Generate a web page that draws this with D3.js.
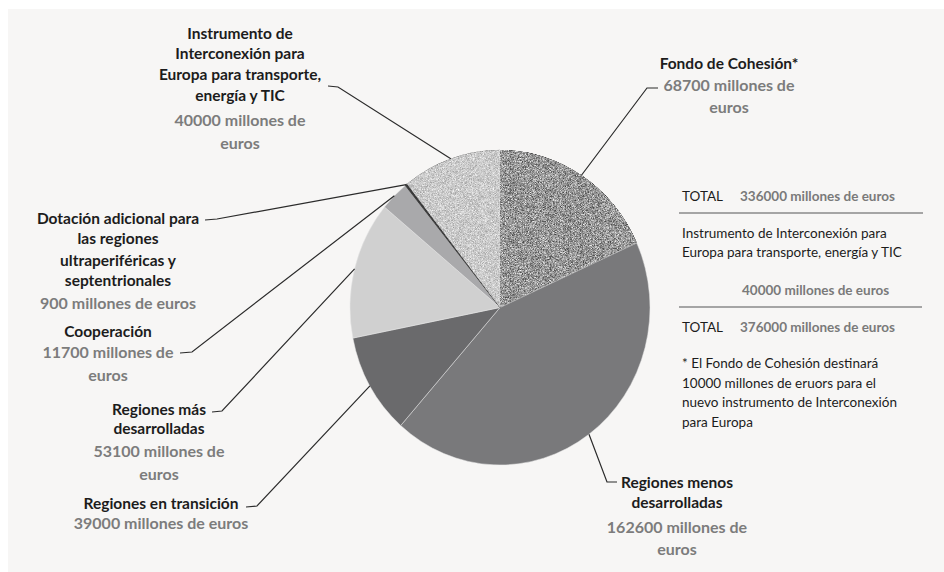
<!DOCTYPE html>
<html><head><meta charset="utf-8">
<script src="https://cdn.jsdelivr.net/npm/d3@7"></script>
<style>html,body{margin:0;padding:0;background:#fff;}svg{display:block;font-family:Lato,"Open Sans",sans-serif;}</style>
</head><body>
<svg id="chart" width="944" height="572"></svg>
<script>
// ---- data ----
const categories = ["Fondo de Cohesión*", "Regiones menos desarrolladas", "Regiones en transición",
  "Regiones más desarrolladas", "Cooperación",
  "Dotación adicional para las regiones ultraperiféricas y septentrionales",
  "Instrumento de Interconexión para Europa para transporte, energía y TIC"];
const values = [68700, 162600, 39000, 53100, 11700, 900, 40000];
const nameLines = [
  ["Fondo de Cohesión*"],
  ["Regiones menos", "desarrolladas"],
  ["Regiones en transición"],
  ["Regiones más", "desarrolladas"],
  ["Cooperación"],
  ["Dotación adicional para", "las regiones", "ultraperiféricas y", "septentrionales"],
  ["Instrumento de", "Interconexión para", "Europa para transporte,", "energía y TIC"]
];
const valueLines = [
  ["68700 millones de", "euros"],
  ["162600 millones de", "euros"],
  ["39000 millones de euros"],
  ["53100 millones de", "euros"],
  ["11700 millones de", "euros"],
  ["900 millones de euros"],
  ["40000 millones de", "euros"]
];
const totalBefore = 336000, totalAfter = 376000, cefValue = 40000;
const boxLines = ["Instrumento de Interconexión para", "Europa para transporte, energía y TIC"];
const noteLines = ["* El Fondo de Cohesión destinará", "10000 millones de eruors para el",
  "nuevo instrumento de Interconexión", "para Europa"];

// ---- layout / styles ----
const fills = ["#979797", "#79797b", "#6a6a6c", "#d0d0d0", "#a9a9ab", "#3a3a3a", "#cacaca"];
const grains = ["g1", null, null, null, null, null, "g2"];
const labelLayout = [
  {cx: 729, nameY: [69], valY: [91, 113], elbow: [647, 88], end: [658, 88]},
  {cx: 677, nameY: [488, 508], valY: [533, 555], elbow: [607, 482], end: [617, 482]},
  {cx: 161, nameY: [509], valY: [529], elbow: [257, 506], end: [246, 507]},
  {cx: 159, nameY: [415, 434], valY: [457, 480], elbow: [222, 411], end: [212, 412]},
  {cx: 108, nameY: [337], valY: [358, 381], elbow: [192, 352], end: [180, 353]},
  {cx: 118, nameY: [224, 244, 266, 286], valY: [309], elbow: [217, 219], end: [205, 220]},
  {cx: 240, nameY: [39, 59, 80, 101], valY: [126, 149], elbow: [338, 87], end: [328, 86]}
];
const cx = 500, cy = 307.5, R = 150, yScale = 1.05;

const svg = d3.select("#chart");
svg.append("rect").attr("x", 8).attr("y", 9).attr("width", 936).attr("height", 563).attr("fill", "#f7f6f5");

const defs = svg.append("defs");
function grain(id, amp, freq, seed) {
  const f = defs.append("filter").attr("id", id).attr("color-interpolation-filters", "sRGB")
    .attr("x", "-5%").attr("y", "-5%").attr("width", "110%").attr("height", "110%");
  f.append("feTurbulence").attr("type", "fractalNoise").attr("baseFrequency", freq)
    .attr("numOctaves", 1).attr("seed", seed).attr("result", "t");
  f.append("feColorMatrix").attr("in", "t").attr("type", "matrix")
    .attr("values", "1 0 0 0 0  1 0 0 0 0  1 0 0 0 0  0 0 0 0 1").attr("result", "n");
  f.append("feComposite").attr("in", "n").attr("in2", "SourceGraphic").attr("operator", "in").attr("result", "nc");
  f.append("feComposite").attr("in", "SourceGraphic").attr("in2", "nc").attr("operator", "arithmetic")
    .attr("k1", 0).attr("k2", 1).attr("k3", amp).attr("k4", -amp / 2);
}
grain("g1", 1.2, 2.4, 3);
grain("g2", 0.6, 2.4, 7);

const pie = d3.pie().sort(null).value(d => d)(values);
const arc = d3.arc().innerRadius(0).outerRadius(R);

const gp = svg.append("g").attr("transform", `translate(${cx},${cy}) scale(1,${yScale})`);
gp.selectAll("path").data(pie).join("path")
  .attr("d", arc)
  .attr("fill", (d, i) => fills[i])
  .attr("stroke", (d, i) => i === 5 ? "#3a3a3a" : "#e6e6e6")
  .attr("stroke-width", (d, i) => i === 5 ? 0.8 : 0.5)
  .attr("vector-effect", "non-scaling-stroke")
  .attr("filter", (d, i) => grains[i] ? `url(#${grains[i]})` : null);

// leaders
const line = d3.line();
const leaders = svg.append("g");
pie.forEach((d, i) => {
  const a = (d.startAngle + d.endAngle) / 2;
  const p = [cx + R * Math.sin(a), cy - R * yScale * Math.cos(a)];
  const L = labelLayout[i];
  leaders.append("path").attr("d", line([p, L.elbow, L.end]))
    .attr("fill", "none").attr("stroke", "#2b2b2b").attr("stroke-width", 1.2);
});

// labels
const labels = svg.append("g").attr("text-anchor", "middle");
categories.forEach((c, i) => {
  const L = labelLayout[i];
  nameLines[i].forEach((t, j) => {
    labels.append("text").attr("x", L.cx).attr("y", L.nameY[j]).text(t)
      .attr("font-size", 15.5).attr("font-weight", 700).attr("fill", "#1c1c1c");
  });
  valueLines[i].forEach((t, j) => {
    labels.append("text").attr("x", L.cx).attr("y", L.valY[j]).text(t)
      .attr("font-size", 16).attr("font-weight", 700).attr("fill", "#7c7c7c");
  });
});

// right box
const box = svg.append("g").attr("font-size", 13.5);
const fmt = v => `${v} millones de euros`;
box.append("text").attr("x", 682).attr("y", 201).attr("fill", "#1c1c1c").text("TOTAL");
box.append("text").attr("x", 740).attr("y", 201).attr("fill", "#7a7a7a").attr("font-weight", 700).text(fmt(totalBefore));
box.append("line").attr("x1", 679).attr("x2", 923).attr("y1", 213).attr("y2", 213).attr("stroke", "#8a8a8a").attr("stroke-width", 1.5);
boxLines.forEach((t, j) => box.append("text").attr("x", 682).attr("y", 238 + j * 19).attr("fill", "#1c1c1c").text(t));
box.append("text").attr("x", 742).attr("y", 295).attr("fill", "#7a7a7a").attr("font-weight", 700).text(fmt(cefValue));
box.append("line").attr("x1", 679).attr("x2", 922).attr("y1", 307).attr("y2", 307).attr("stroke", "#8a8a8a").attr("stroke-width", 1.5);
box.append("text").attr("x", 682).attr("y", 332).attr("fill", "#1c1c1c").text("TOTAL");
box.append("text").attr("x", 740).attr("y", 332).attr("fill", "#7a7a7a").attr("font-weight", 700).text(fmt(totalAfter));
noteLines.forEach((t, j) => box.append("text").attr("x", 682).attr("y", 368 + j * 19.5).attr("fill", "#1c1c1c").text(t));
</script>
</body></html>
